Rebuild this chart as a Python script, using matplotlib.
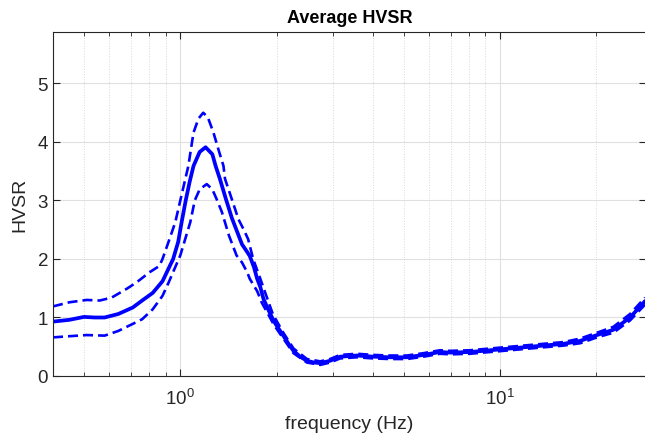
import matplotlib
matplotlib.use("Agg")
import matplotlib.pyplot as plt
import numpy as np
from matplotlib.ticker import LogLocator, NullFormatter, FixedLocator

plt.rcParams['font.family'] = ['Liberation Sans', 'DejaVu Sans']
plt.rcParams['mathtext.fontset'] = 'custom'
plt.rcParams['mathtext.rm'] = 'Liberation Sans'

# average HVSR curve
freq_mean = [0.40, 0.45, 0.50, 0.54, 0.58, 0.64, 0.71, 0.76, 0.82, 0.88, 0.95, 0.985,
             1.01, 1.04, 1.07, 1.10, 1.15, 1.20, 1.26, 1.29, 1.33, 1.39, 1.45, 1.51,
             1.56, 1.61, 1.65, 1.70, 1.74, 1.78, 1.82, 1.89, 1.96, 2.03, 2.10, 2.18,
             2.26, 2.37, 2.49, 2.62, 2.74, 2.94, 3.16, 3.57, 4.02, 4.53, 5.11, 5.76,
             6.49, 6.98, 8.06, 9.77, 12.4, 15.8, 17.8, 20.1, 22.6, 25.5, 28.4]
hvsr_mean = [0.93, 0.96, 1.01, 1.00, 1.00, 1.06, 1.17, 1.29, 1.42, 1.62, 2.00, 2.29,
             2.63, 3.00, 3.32, 3.59, 3.83, 3.91, 3.79, 3.59, 3.37, 3.02, 2.70, 2.45,
             2.25, 2.14, 2.05, 1.86, 1.66, 1.52, 1.32, 1.12, 0.94, 0.81, 0.69, 0.55,
             0.43, 0.33, 0.26, 0.23, 0.22, 0.26, 0.33, 0.35, 0.33, 0.32, 0.32, 0.36,
             0.41, 0.40, 0.41, 0.45, 0.50, 0.55, 0.60, 0.70, 0.79, 1.00, 1.28]

# mean + std
freq_upper = [0.40, 0.45, 0.51, 0.56, 0.61, 0.68, 0.73, 0.80, 0.86, 0.88, 0.92, 0.965,
              1.01, 1.06, 1.10, 1.14, 1.18, 1.22, 1.27, 1.32, 1.365, 1.38, 1.45, 1.52,
              1.58, 1.63, 1.69, 1.78, 1.85, 1.95, 2.10, 2.26, 2.49, 2.74, 2.94, 3.16,
              3.57, 4.02, 4.53, 5.11, 5.76, 6.49, 6.98, 8.06, 9.77, 12.4, 15.8, 17.8,
              20.1, 22.6, 25.5, 28.4]
hvsr_upper = [1.19, 1.26, 1.30, 1.29, 1.34, 1.49, 1.60, 1.77, 1.88, 2.00, 2.30, 2.63,
              3.10, 3.59, 4.16, 4.40, 4.50, 4.42, 4.16, 3.85, 3.59, 3.37, 3.02, 2.68,
              2.50, 2.34, 2.00, 1.66, 1.40, 1.05, 0.74, 0.47, 0.29, 0.25, 0.29, 0.36,
              0.38, 0.36, 0.35, 0.35, 0.39, 0.44, 0.43, 0.44, 0.48, 0.53, 0.58, 0.64,
              0.74, 0.84, 1.06, 1.34]

# mean - std
freq_lower = [0.40, 0.45, 0.51, 0.58, 0.64, 0.71, 0.76, 0.82, 0.88, 0.92, 1.00, 1.075,
              1.11, 1.15, 1.21, 1.26, 1.30, 1.35, 1.42, 1.50, 1.56, 1.62, 1.65, 1.74,
              1.80, 1.89, 1.96, 2.10, 2.26, 2.49, 2.74, 2.94, 3.16, 3.57, 4.02, 4.53,
              5.11, 5.76, 6.49, 6.98, 8.06, 9.77, 12.4, 15.8, 17.8, 20.1, 22.6, 25.5, 28.4]
hvsr_lower = [0.66, 0.68, 0.70, 0.69, 0.77, 0.89, 0.97, 1.14, 1.37, 1.60, 2.06, 2.63,
              3.00, 3.19, 3.28, 3.19, 3.02, 2.80, 2.40, 2.06, 1.94, 1.77, 1.66, 1.45,
              1.25, 1.04, 0.88, 0.64, 0.39, 0.23, 0.19, 0.23, 0.30, 0.32, 0.30, 0.29,
              0.29, 0.33, 0.38, 0.37, 0.38, 0.42, 0.47, 0.52, 0.56, 0.66, 0.74, 0.95, 1.22]

fig = plt.figure(figsize=(6.45, 4.39), dpi=100)
# right edge of the axes sits just past the picture, as in the original crop
ax = fig.add_axes([53 / 645, 62 / 439, 593 / 645, 344 / 439])

ax.plot(freq_mean, hvsr_mean, color='#0000ff', lw=2.7, solid_capstyle='round',
        solid_joinstyle='round')
ax.plot(freq_upper, hvsr_upper, color='#0000ff', lw=1.9, dashes=(3.8, 1.9))
ax.plot(freq_lower, hvsr_lower, color='#0000ff', lw=1.9, dashes=(3.8, 1.9))

ax.set_xscale('log')
ax.set_xlim(0.40, 28.6)
ax.set_ylim(0, 5.88)
ax.set_yticks([0, 1, 2, 3, 4, 5])
ax.xaxis.set_major_locator(FixedLocator([1, 10]))
ax.xaxis.set_minor_locator(LogLocator(base=10, subs=np.arange(2, 10)))
ax.xaxis.set_minor_formatter(NullFormatter())
ax.set_xticklabels(['$10^0$', '$10^1$'])

ax.grid(True, which='major', color='#e0e0e0', lw=0.8)
ax.grid(True, which='minor', axis='x', color='#d8d8d8', lw=0.7, ls=':')
ax.set_axisbelow(True)

for s in ax.spines.values():
    s.set_color('#262626')
    s.set_linewidth(0.8)
ax.tick_params(which='both', direction='in', top=True, right=True, colors='#262626',
               labelsize=13.5, labelcolor='#262626')
ax.tick_params(which='major', length=5)
ax.tick_params(which='minor', length=3)
ax.tick_params(axis='x', pad=8)

ax.set_title('Average HVSR', fontsize=13, fontweight='bold', pad=7)
ax.set_xlabel('frequency (Hz)', fontsize=14, color='#262626', labelpad=5)
ax.set_ylabel('HVSR', fontsize=14, color='#262626', labelpad=7)

fig.savefig('out.png', dpi=100)
